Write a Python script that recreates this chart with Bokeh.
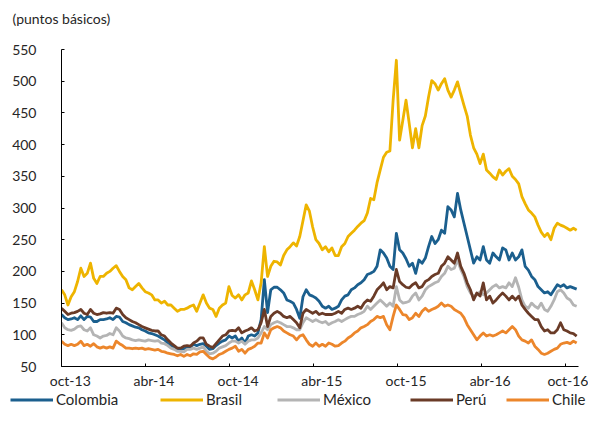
import pandas as pd
from bokeh.plotting import figure
from bokeh.layouts import column
from bokeh.models import (ColumnDataSource, Range1d, LinearAxis, FixedTicker,
                          Legend, LegendItem, Label)
from bokeh.embed import file_html
from bokeh.resources import INLINE

# ---------------- data (weekly readings, basis points) ----------------
start_date = "2013-10-01"
n_weeks = 161

brasil = [171, 163, 147, 160, 168, 184, 205, 192, 197, 213,
          189, 181, 192, 192, 197, 200, 205, 209, 200, 192,
          187, 174, 171, 176, 181, 174, 168, 166, 163, 155,
          155, 150, 153, 147, 147, 142, 137, 140, 140, 142,
          145, 147, 137, 150, 163, 150, 142, 140, 129, 142,
          147, 150, 176, 162, 158, 163, 155, 163, 166, 185,
          171, 155, 182, 239, 192, 208, 216, 215, 210, 225,
          234, 239, 245, 240, 255, 280, 305, 295, 270, 250,
          244, 234, 239, 231, 237, 225, 225, 239, 244, 255,
          260, 265, 271, 276, 280, 292, 315, 313, 340, 360,
          380, 388, 390, 470, 533, 407, 438, 470, 433, 395,
          425, 395, 430, 445, 475, 501, 496, 486, 496, 504,
          486, 475, 486, 499, 480, 462, 445, 415, 395, 385,
          370, 385, 360, 355, 349, 345, 360, 352, 358, 362,
          350, 345, 338, 318, 307, 297, 292, 286, 273, 262,
          255, 260, 250, 268, 276, 273, 271, 268, 265, 268, 265]

colombia = [132, 127, 124, 125, 127, 124, 130, 124, 129, 128,
            121, 121, 124, 124, 125, 127, 124, 129, 128, 121,
            119, 116, 114, 112, 111, 108, 106, 103, 102, 100,
            98, 95, 92, 87, 83, 79, 77, 77, 78, 79,
            81, 85, 83, 85, 86, 82, 77, 78, 83, 87,
            90, 92, 98, 95, 98, 90, 95, 87, 98, 100,
            98, 103, 124, 187, 135, 171, 175, 175, 171, 166,
            155, 153, 150, 140, 126, 160, 171, 163, 161, 158,
            153, 145, 142, 145, 140, 142, 145, 155, 161, 163,
            171, 174, 179, 182, 187, 195, 197, 200, 208, 234,
            229, 221, 208, 203, 260, 234, 229, 220, 208, 213,
            197, 218, 213, 221, 239, 255, 244, 250, 265, 260,
            302, 297, 286, 323, 297, 276, 255, 234, 213, 223,
            218, 239, 218, 213, 229, 223, 218, 237, 234, 218,
            229, 218, 223, 234, 208, 202, 192, 187, 176, 171,
            166, 168, 163, 171, 179, 176, 179, 174, 176, 174, 172]

mexico = [119, 111, 108, 107, 109, 113, 114, 108, 106, 111,
          100, 98, 95, 98, 99, 102, 100, 111, 106, 98,
          95, 94, 92, 91, 92, 91, 90, 92, 91, 90,
          91, 87, 86, 83, 79, 77, 74, 74, 73, 77,
          77, 79, 77, 79, 81, 74, 70, 71, 74, 79,
          81, 83, 87, 90, 90, 87, 90, 85, 90, 92,
          92, 95, 103, 113, 108, 116, 119, 121, 119, 116,
          113, 113, 111, 108, 108, 119, 127, 124, 121, 124,
          121, 119, 121, 116, 119, 121, 124, 121, 124, 127,
          129, 129, 132, 134, 137, 145, 140, 145, 150, 155,
          150, 145, 150, 145, 176, 155, 150, 151, 153, 161,
          166, 155, 161, 171, 176, 179, 182, 184, 192, 197,
          208, 203, 205, 218, 203, 192, 176, 166, 161, 163,
          168, 163, 166, 171, 176, 179, 174, 176, 174, 182,
          176, 190, 175, 155, 145, 142, 150, 145, 142, 150,
          140, 137, 145, 155, 168, 171, 166, 158, 155, 147, 145]

peru = [142, 137, 132, 134, 135, 137, 140, 134, 132, 140,
        134, 132, 133, 135, 134, 135, 134, 142, 140, 132,
        127, 124, 121, 119, 116, 113, 111, 109, 107, 106,
        106, 100, 98, 92, 87, 83, 79, 79, 82, 83,
        82, 87, 90, 95, 95, 85, 82, 80, 86, 92,
        98, 100, 106, 107, 106, 111, 103, 106, 108, 111,
        106, 108, 119, 140, 113, 129, 134, 137, 134, 129,
        127, 129, 124, 119, 111, 134, 140, 137, 134, 137,
        132, 134, 132, 132, 132, 134, 137, 134, 140, 142,
        140, 142, 145, 142, 150, 155, 153, 161, 171, 176,
        182, 171, 176, 174, 203, 184, 179, 175, 174, 179,
        182, 174, 176, 184, 187, 192, 195, 197, 208, 213,
        223, 218, 213, 229, 208, 197, 182, 171, 155, 166,
        161, 182, 155, 161, 150, 155, 161, 166, 161, 155,
        161, 155, 161, 147, 140, 134, 129, 124, 124, 113,
        106, 108, 103, 103, 108, 119, 108, 106, 103, 102, 98]

chile = [90, 85, 83, 85, 83, 85, 90, 83, 85, 82,
         86, 81, 79, 81, 79, 81, 79, 90, 86, 83,
         79, 79, 78, 79, 78, 79, 77, 78, 77, 76,
         77, 74, 73, 71, 70, 69, 67, 69, 66, 69,
         67, 70, 69, 73, 74, 69, 64, 62, 65, 69,
         71, 74, 77, 79, 82, 74, 77, 71, 77, 79,
         82, 87, 87, 103, 95, 108, 111, 113, 111, 106,
         103, 100, 98, 92, 98, 100, 92, 85, 82, 87,
         82, 85, 82, 87, 85, 82, 83, 87, 90, 95,
         98, 103, 106, 111, 113, 116, 121, 124, 129, 127,
         129, 116, 108, 129, 147, 140, 132, 131, 124, 127,
         134, 129, 137, 142, 137, 140, 142, 145, 150, 145,
         147, 145, 140, 137, 134, 127, 116, 108, 100, 92,
         98, 103, 98, 100, 98, 100, 103, 106, 103, 108,
         113, 108, 98, 92, 90, 87, 92, 82, 77, 71,
         69, 71, 74, 77, 79, 85, 87, 88, 86, 90, 87]

series_names = ["Colombia", "Brasil", "México", "Perú", "Chile"]
series_values = [colombia, brasil, mexico, peru, chile]
series_colors = ["#1B5F8E", "#EEB400", "#B4B4B4", "#6A3B27", "#EC862B"]

y_ticks = [50, 100, 150, 200, 250, 300, 350, 400, 450, 500, 550]
x_tick_dates = ["2013-10-01", "2014-04-01", "2014-10-01", "2015-04-01",
                "2015-10-01", "2016-04-01", "2016-10-01"]
x_tick_labels = ["oct-13", "abr-14", "oct-14", "abr-15", "oct-15", "abr-16", "oct-16"]
x_end_date = "2016-10-29"
title_text = "(puntos básicos)"

# ---------------- layout / style constants ----------------
EPOCH = pd.Timestamp("1970-01-01")
DAY_MS = 86400000.0
FONT = "Lato"
TXT = "#262626"
W = 588
label_offsets_days = [19, 19, 19, 19, 19, 19, 5]
legend_x = [10, 160, 277, 410, 506]
NAN = float("nan")


def ms(d):
    return float((pd.Timestamp(d) - EPOCH) / pd.Timedelta(milliseconds=1))


def bare_figure(height):
    f = figure(width=W, height=height, output_backend="svg", toolbar_location=None,
               x_axis_type=None, y_axis_type=None,
               x_range=Range1d(0, 1), y_range=Range1d(0, 1),
               min_border_left=0, min_border_right=0,
               min_border_top=0, min_border_bottom=0,
               frame_align=False)
    f.outline_line_color = None
    return f


# ---------------- title strip ----------------
top = bare_figure(30)
top.add_layout(Label(x=12, y=12, x_units="screen", y_units="screen",
                     text=title_text, text_font=FONT, text_font_size="14px",
                     text_color=TXT, text_baseline="middle", text_align="left"))

# ---------------- main chart ----------------
dates = pd.date_range(start_date, periods=n_weeks, freq="7D")

p = figure(width=W, height=361, output_backend="svg", toolbar_location=None,
           x_axis_type=None, y_axis_type=None,
           x_range=Range1d(ms(start_date), ms(x_end_date)),
           y_range=Range1d(50, 550),
           min_border_left=61, min_border_right=W - 578,
           min_border_top=19, min_border_bottom=24,
           frame_align=False)
p.outline_line_color = None

yaxis = LinearAxis(ticker=FixedTicker(ticks=y_ticks),
                   major_tick_in=3, major_tick_out=0,
                   minor_tick_line_color=None,
                   axis_line_color="black", axis_line_width=1,
                   major_tick_line_color="black",
                   major_label_standoff=25,
                   major_label_text_font=FONT,
                   major_label_text_font_size="14px",
                   major_label_text_color=TXT)
p.add_layout(yaxis, "left")

tick_ms = [ms(d) for d in x_tick_dates]
xticks_axis = LinearAxis(ticker=FixedTicker(ticks=tick_ms),
                         major_tick_in=3, major_tick_out=0,
                         minor_tick_line_color=None,
                         axis_line_color="black", axis_line_width=1,
                         major_tick_line_color="black",
                         major_label_overrides={t: "" for t in tick_ms},
                         major_label_text_font_size="1px",
                         major_label_standoff=0)
p.add_layout(xticks_axis, "below")

label_ms = [t + off * DAY_MS for t, off in zip(tick_ms, label_offsets_days)]
xlabels_axis = LinearAxis(ticker=FixedTicker(ticks=label_ms),
                          major_tick_in=0, major_tick_out=0,
                          minor_tick_line_color=None,
                          axis_line_color=None,
                          major_tick_line_color=None,
                          major_label_overrides=dict(zip(label_ms, x_tick_labels)),
                          major_label_standoff=5,
                          major_label_text_font=FONT,
                          major_label_text_font_size="14px",
                          major_label_text_color=TXT)
p.add_layout(xlabels_axis, "below")

for name, vals, col in zip(series_names, series_values, series_colors):
    n = min(len(vals), len(dates))
    src = ColumnDataSource(dict(x=dates[:n], y=vals[:n]))
    p.line(x="x", y="y", source=src, line_color=col, line_width=2.8,
           line_join="round")

# ---------------- legend strip ----------------
leg_fig = bare_figure(17)
for name, col, lx in zip(series_names, series_colors, legend_x):
    # legend key only: a single undefined point, nothing is drawn in the strip
    r = leg_fig.line(x=[NAN], y=[NAN], line_color=col, line_width=3.2)
    leg = Legend(items=[LegendItem(label=name, renderers=[r])],
                 location=(lx, 0), orientation="horizontal",
                 padding=0, margin=0, spacing=0,
                 glyph_width=43, glyph_height=17, label_height=17,
                 label_standoff=3,
                 label_text_font=FONT, label_text_font_size="15px",
                 label_text_color=TXT,
                 border_line_color=None, background_fill_alpha=0)
    leg_fig.add_layout(leg)

layout = column(top, p, leg_fig, spacing=0)

open("out.html", "w").write(file_html(layout, INLINE))
